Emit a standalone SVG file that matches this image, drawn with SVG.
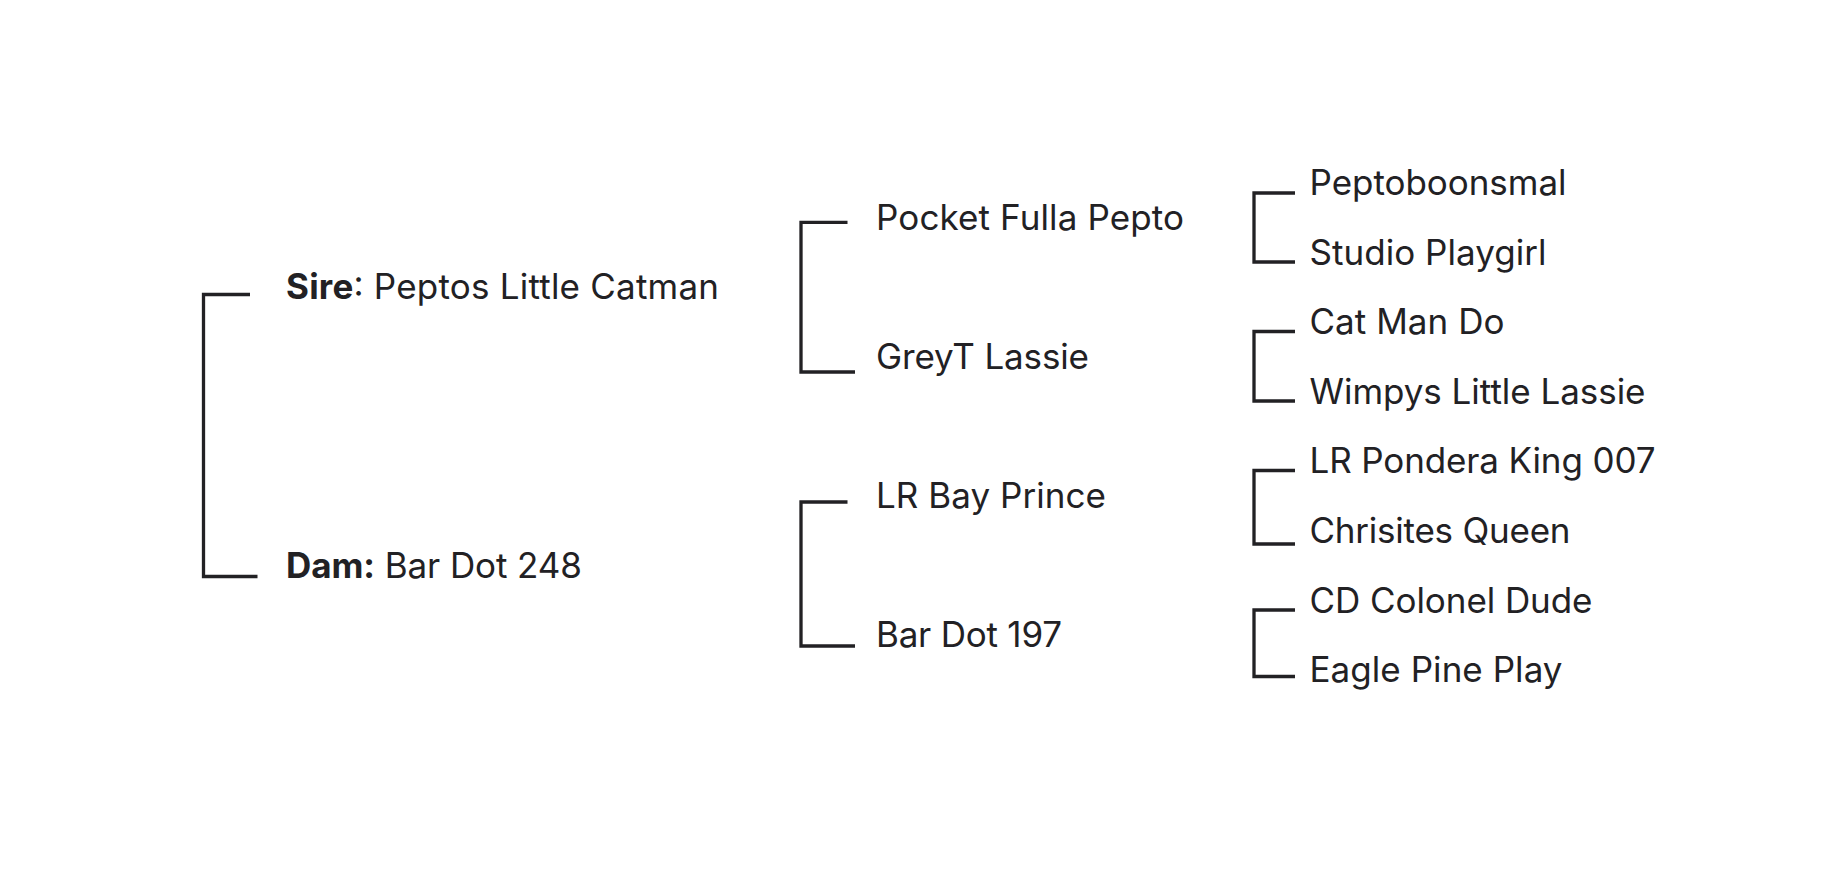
<svg xmlns="http://www.w3.org/2000/svg" width="1822" height="886" viewBox="0 0 1822 886">
<style>
.t{font-family:Inter,"Liberation Sans",sans-serif;font-size:35px;fill:#222124}
.b{font-weight:700}
.c{fill:none;stroke:#222124;stroke-width:3.3;stroke-linejoin:miter;stroke-linecap:butt}
</style>
<rect width="1822" height="886" fill="#ffffff"/>
<g id="connectors">
<path class="c" d="M250,294.5 H203.5 V576.5 H257.5"/>
<path class="c" d="M847.5,222.3 H801 V372 H855"/>
<path class="c" d="M847.5,502 H801 V646 H855"/>
<path class="c" d="M1295,193 H1254 V262 H1295"/>
<path class="c" d="M1295,331.5 H1254 V401 H1295"/>
<path class="c" d="M1295,470.5 H1254 V544 H1295"/>
<path class="c" d="M1295,610 H1254 V676.5 H1295"/>
</g>
<g id="sire"><text class="t" x="286" y="299.4" textLength="433" lengthAdjust="spacing"><tspan class="b">Sire</tspan>: Peptos Little Catman</text></g>
<g id="dam"><text class="t" x="286" y="577.8" textLength="296" lengthAdjust="spacing"><tspan class="b">Dam:</tspan> Bar Dot 248</text></g>
<g id="pocket-fulla-pepto"><text class="t" x="876" y="229.8" textLength="308" lengthAdjust="spacing">Pocket Fulla Pepto</text></g>
<g id="greyt-lassie"><text class="t" x="876" y="369" textLength="213" lengthAdjust="spacing">GreyT Lassie</text></g>
<g id="lr-bay-prince"><text class="t" x="876" y="508.2" textLength="230" lengthAdjust="spacing">LR Bay Prince</text></g>
<g id="bar-dot-197"><text class="t" x="876" y="647.4" textLength="186" lengthAdjust="spacing">Bar Dot 197</text></g>
<g id="peptoboonsmal"><text class="t" x="1309.5" y="195" textLength="257" lengthAdjust="spacing">Peptoboonsmal</text></g>
<g id="studio-playgirl"><text class="t" x="1309.5" y="264.6" textLength="237" lengthAdjust="spacing">Studio Playgirl</text></g>
<g id="cat-man-do"><text class="t" x="1309.5" y="334.2" textLength="195" lengthAdjust="spacing">Cat Man Do</text></g>
<g id="wimpys-little-lassie"><text class="t" x="1309.5" y="403.8" textLength="336" lengthAdjust="spacing">Wimpys Little Lassie</text></g>
<g id="lr-pondera-king-007"><text class="t" x="1309.5" y="473.4" textLength="346" lengthAdjust="spacing">LR Pondera King 007</text></g>
<g id="chrisites-queen"><text class="t" x="1309.5" y="543" textLength="261" lengthAdjust="spacing">Chrisites Queen</text></g>
<g id="cd-colonel-dude"><text class="t" x="1309.5" y="612.6" textLength="283" lengthAdjust="spacing">CD Colonel Dude</text></g>
<g id="eagle-pine-play"><text class="t" x="1309.5" y="682.2" textLength="253" lengthAdjust="spacing">Eagle Pine Play</text></g>
</svg>
